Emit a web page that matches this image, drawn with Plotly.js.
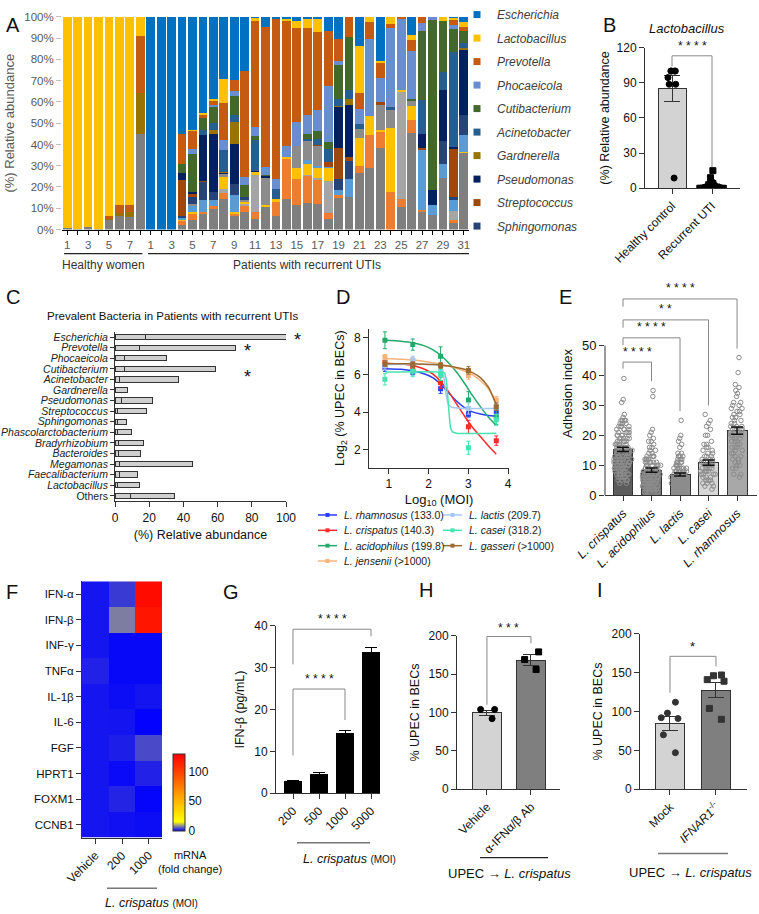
<!DOCTYPE html>
<html>
<head>
<meta charset="utf-8">
<script src="https://cdn.plot.ly/plotly-3.0.1.min.js"></script>
<style>html,body{margin:0;padding:0;background:#fff}#fig{width:759px;height:914px}</style>
</head>
<body>
<div id="fig"></div>
<script>
// ---------- Panel A: relative abundance per sample (%), bottom-up stack ----------
const aBarIds = ['H1','H2','H3','H4','H5','H6','H7','H8',
  'P1','P2','P3','P4','P5','P6','P7','P8','P9','P10','P11','P12','P13','P14','P15','P16',
  'P17','P18','P19','P20','P21','P22','P23','P24','P25','P26','P27','P28','P29','P30','P31'];
const aTickText = ['1','','3','','5','','7','',
  '1','','3','','5','','7','','9','','11','','13','','15','',
  '17','','19','','21','','23','','25','','27','','29','','31'];

const aOthers = [0.5,0.3,1.0,0.4,4.3,6.5,5.9,45, 0,0,0,2,4.7,7.1,9.8,14.4,6.2,8.2,5.1,10.5,6.2,14.4,11.3,12.4,12.1,5.1,14.9,15.5,26.4,28.9,38.2,0,10.6,45.5,8.4,6.7,24.2,3.1,36];
const aLightOrange = [0,0,0,0,0,0,0,0, 0,0,0,1.9,2.8,1.1,1.1,2.7,1.3,2.7,3.1,0,6.7,18.6,12.5,12.8,11.2,2.7,1.1,0,3.3,15.5,7.6,17.5,3.8,6.2,0.9,0,0,1.2,0];
const aLightGray = [0,0,0,0,0,0,0,0, 0,0,0,0,0,0,0,2.0,0,1.2,17.4,0,0,0,0,0.6,0.9,15.2,0,0,0,0,0,0,50.5,0,0,0,0,4.4,0];
const aGold2 = [0,0,0,0,0,0,0,0, 0,0,0,0.6,0.7,0,0,5.7,0.7,0.9,1.6,0.8,1.5,1.2,5.0,5.2,4.7,5.9,0,0,13.5,8.9,0.8,30.3,0.8,6.2,0,0,0,0,0.6];
const aSky = [0,0,0,0,0,0,0,0, 0,0,0,1.0,2.7,5.5,3.1,0,8.1,0,0,0,0,0,0,1.6,1.1,0.6,2.6,8.3,0,0,0,0,0,0.4,28,4.6,6.8,5.0,7.8];
const aGray2 = [0,0,0,0,0,0,0,0, 0,0,0,0,1.2,0,0,1.2,0,1.0,0,12.9,0,0,10.6,9.0,9.3,0,0,0,4.3,0,12.1,8.6,0,2.3,0,0,0,0,0];
const aSphingo = [0,0,0,0,0,0,0,0, 0,0,0,0.9,3.4,8.7,3.5,0,5.1,1.2,0,0,0,0,0,0,0,0,5.2,8.2,0,0,0,0,0,0,0,0,10.6,1.5,9.6];
const aStrep = [0,0,0,0,0,0,0,0, 0,0,0,17.1,1.3,0.6,0,0,0,0,0,0,0,0,0,0,0.4,2.3,14.7,1.9,0,0,1.2,0,0,0,0.9,0,0,22.5,0];
const aPseudo = [0,0,0,0,0,0,0,0, 0,0,0,3.0,0.7,21.4,27.5,0.6,18.6,0,0.5,0.8,0,0,0,0,0,0,19.0,24.8,0,0,0,0,0,0,6.5,7.3,24.1,1.1,30.5];
const aGard = [0,0,0,0,0.8,1.5,2.3,19.1, 0,0,0,0,0,0,1.6,0.6,10.6,0,0,0,0,0,0,0,0,0,0.4,2.8,0,0,0,0,0,0,0,0,0,0,0.9];
const aAcin = [0,0,0,0,0,0,0,0, 0,0,0,0,0,2.6,3.6,10.4,3.1,0,14.4,0,4.7,0,0,0.8,2.9,6.2,3.6,4.2,2.2,0,0,1.1,0,0,16.3,0,8.5,44.7,2.5];
const aCuti = [0,0,0,0,0,0,0,0, 0,0,0,4.2,18.2,5.5,7.4,0,9.3,5.8,1.9,0.7,0,0,0,2.3,3.9,3.1,16.1,24.8,0,0,0,0,0,0.9,32.6,79.8,24.1,10.6,5.7];
const aPhoc = [0,0,0,0,0,0,0,0, 0,0,0,0,2.0,0,0.8,4.4,2.2,3.8,4.0,3.5,4.7,5.2,11.1,9.3,9.6,26.4,1.6,0,7.1,36.1,11.5,37.2,33.3,22.4,3.6,1.6,0,1.9,0];
const aPrev = [0,0,0,0,1.1,3.3,3.4,26.9, 0,0,0,14.3,8.6,1.5,2.2,17.4,5.1,49.7,50.3,66.2,75.2,58.8,44.3,40.9,36.6,25.8,10.6,9.5,7.3,8.4,6.7,2.0,1.0,5.1,2.8,0,0,2.6,1.6];
const aLacto = [99.5,99.7,99.0,99.6,93.8,88.7,88.4,9.0, 0,0,0,0,0.7,1.0,0.7,11.3,0,0,1.0,0,0,0.8,3.4,3.9,6.1,0,0,0,22.2,2.2,1.1,3.3,0,2.3,0,0,1.7,0.8,2.3];
const aEsch = [0,0,0,0,0,0,0,0, 100,100,100,55,53,45,38.7,29.3,29.7,25.5,0.7,4.6,1.0,1.0,1.8,1.2,1.2,6.7,10.2,0,13.7,0,20.8,0,0,9.1,0,0,0,0.6,2.5];

// ---------- Panel B ----------
const bGroups = ['Healthy control', 'Recurrent UTI'];
const bMeans = [84.8, 1.9];
const bSem = [11.2, 0.7];
const bHealthyPts = [100, 100, 100, 100, 94.4, 88.7, 88.7, 8.7];
const bRecurrentPts = [15, 9, 5, 4.5, 4, 3.5, 3, 3, 2.5, 2, 2, 1.5, 1.5, 1, 1, 1, 0.8, 0.5, 0.5, 0.5, 0.3, 0.3, 0.2, 0.2, 0.1, 0.1, 0, 0, 0, 0, 0];

// ---------- Panel C ----------
const cGenera = ['Escherichia','Prevotella','Phocaeicola','Cutibacterium','Acinetobacter','Gardnerella',
  'Pseudomonas','Streptococcus','Sphingomonas','Phascolarctobacterium','Bradyrhizobium','Bacteroides',
  'Megamonas','Faecalibacterium','Lactobacillus','Others'];
const cMedian = [18.1, 14.6, 5.8, 5.8, 2.9, 0, 3.9, 1.4, 1.4, 1.7, 1.9, 1.9, 2.5, 2.9, 1.4, 9.1];
const cMax = [100, 70.3, 29.9, 58.8, 37.3, 7.2, 22.1, 18.4, 6.8, 9.5, 16.9, 14.9, 45.5, 13.4, 14.1, 34.9];

// ---------- Panel D: log2 (% UPEC in BECs) vs log10 MOI ----------
const dLogMoi = [0.9, 1.6, 2.3, 3.0, 3.7];
const dRham = [6.38, 6.15, 5.26, 3.89, 4.03], dRhamErr = [0.2, 0.15, 0.25, 0.15, 0.2];
const dCris = [6.68, 6.41, 5.58, 3.22, 2.48], dCrisErr = [0.3, 0.2, 0.3, 0.35, 0.25];
const dAcid = [7.85, 7.62, 7.0, 4.65, 3.75], dAcidErr = [0.45, 0.3, 0.5, 0.45, 0.4];
const dJens = [6.94, 6.76, 6.5, 5.97, 4.65], dJensErr = [0.15, 0.15, 0.15, 0.2, 0.2];
const dLact = [6.5, 6.8, 6.2, 4.2, 4.3], dLactErr = [0.2, 0.2, 0.2, 0.3, 0.2];
const dCase = [5.76, 6.2, 6.0, 2.1, 3.6], dCaseErr = [0.3, 0.3, 0.3, 0.35, 0.3];
const dGass = [6.6, 6.55, 6.5, 6.24, 4.3], dGassErr = [0.15, 0.15, 0.15, 0.2, 0.2];
// fitted curves
const dFitX = [0.9, 1.3, 1.6, 1.9, 2.1, 2.3, 2.5, 2.7, 2.9, 3.1, 3.3, 3.5, 3.7];
const dRhamFit = [6.33, 6.3, 6.22, 6.05, 5.85, 5.5, 5.05, 4.6, 4.25, 4.02, 3.9, 3.83, 3.8];
const dCrisFit = [6.62, 6.58, 6.5, 6.3, 6.05, 5.65, 5.1, 4.45, 3.8, 3.2, 2.7, 2.2, 1.75];
const dAcidFit = [7.85, 7.8, 7.72, 7.55, 7.35, 7.05, 6.65, 6.15, 5.55, 4.9, 4.3, 3.75, 3.3];
const dJensFit = [6.88, 6.84, 6.8, 6.72, 6.65, 6.57, 6.47, 6.35, 6.2, 6.0, 5.7, 5.25, 4.6];
const dGassFit = [6.6, 6.6, 6.59, 6.57, 6.55, 6.52, 6.47, 6.4, 6.3, 6.12, 5.85, 5.35, 4.4];
const dLactFitX = [0.9, 2.2, 2.3, 2.35, 2.4, 2.45, 2.5, 2.6, 3.0, 3.7];
const dLactFit = [6.55, 6.55, 6.5, 6.3, 5.6, 4.8, 4.4, 4.25, 4.2, 4.2];
const dCaseFitX = [0.9, 2.3, 2.4, 2.45, 2.5, 2.55, 2.6, 2.7, 3.7];
const dCaseFit = [6.15, 6.15, 6.1, 5.6, 4.3, 3.2, 2.95, 2.88, 2.88];

// ---------- Panel E: adhesion index ----------
const eStrains = ['L. crispatus', 'L. acidophilus', 'L. lactis', 'L. casei', 'L. rhamnosus'];
const eMeans = [15.3, 8.4, 6.9, 10.9, 21.6];
const eSem = [0.7, 0.7, 0.5, 0.9, 1.2];
const eCrisLv = [4,5,6,7,8,9,10,11,12,13,14,15,16,17,18,19,20,21,22,23,24,25,26,27,31,32,39];
const eCrisCt = [2,4,5,6,6,7,8,8,8,7,7,7,6,6,5,5,5,4,4,4,4,4,1,1,1,1,1];
const eAcidLv = [1,2,3,4,5,6,7,8,9,10,11,12,13,14,15,16,17,18,19,20,21,22,33,35];
const eAcidCt = [5,7,8,9,9,9,8,7,7,6,6,5,4,2,2,2,1,2,1,1,1,1,1,1];
const eLactLv = [1,2,3,4,5,6,7,8,9,10,11,12,13,14,16,17,18,19,20,25];
const eLactCt = [6,8,10,11,12,11,9,7,6,5,4,3,4,2,1,1,1,1,1,1];
const eCaseLv = [2,3,4,5,6,7,8,9,10,11,12,13,14,15,16,17,18,20,22,23,24,25,27];
const eCaseCt = [1,2,3,3,3,4,4,4,4,3,3,3,2,2,2,2,1,2,1,1,1,1,1];
const eRhamLv = [6,7,9,10,11,12,13,14,15,16,17,18,19,20,21,22,23,24,25,26,27,28,29,30,31,33,34,35,36,37,41,46];
const eRhamCt = [1,2,2,2,2,2,2,2,2,3,2,3,3,3,3,5,3,2,2,2,2,2,2,2,2,1,1,1,1,1,1,1];

// ---------- Panel F: mRNA fold change ----------
const fGenes = ['IFN-α','IFN-β','INF-γ','TNFα','IL-1β','IL-6','FGF','HPRT1','FOXM1','CCNB1'];
const fConditions = ['Vehicle', '200', '1000'];
const fFold = [
  [1.3, 3.5, 125], [1.3, 7.6, 120], [1.3, 0.5, 0.5], [2.0, 0.5, 0.5], [1.3, 0.8, 1.2],
  [1.3, 1.2, 0.1], [1.3, 1.8, 4.5], [1.3, 0.6, 2.0], [1.3, 2.2, 0.3], [1.3, 1.0, 0.8]];

// ---------- Panel G: IFN-β (pg/mL) ----------
const gMoi = ['200', '500', '1000', '5000'];
const gIfnb = [2.7, 4.5, 14.3, 33.7];
const gErr = [0.4, 0.4, 0.8, 1.2];

// ---------- Panel H ----------
const hGroups = ['Vehicle', 'Ab'];
const hLabels = ['Vehicle', 'α-IFNα/β Ab'];
const hMeans = [99.5, 168];
const hSem = [3.5, 7];
const hVehiclePts = [104, 104, 92];
const hAbPts = [179, 169, 156];

// ---------- Panel I ----------
const iGroups = ['Mock', 'IFNAR1'];
const iLabels = ['Mock', '<i>IFNAR1</i><sup>-/-</sup>'];
const iMeans = [84.5, 127.5];
const iSem = [9.5, 10];
const iMockPts = [112, 98, 92, 91, 70, 47];
const iKoPts = [147, 146, 141, 139, 104, 90];

// ================= drawing =================
const W = 759, H = 914;
const FONT = 'Arial, "Liberation Sans", sans-serif';
const px = (a, b) => [a / W, b / W];
const py = (top, bottom) => [1 - bottom / H, 1 - top / H];
const fx = v => v / W;
const fy = v => 1 - v / H;

function expand(levels, counts, label) {
  const xs = [], ys = [];
  levels.forEach((v, i) => { for (let k = 0; k < counts[i]; k++) { xs.push(label); ys.push(v); } });
  return {xs, ys};
}

function dots(x, y, xa, ya, symbol, size, color, width) {
  return {type: 'box', x: x, y: y, xaxis: xa, yaxis: ya, boxpoints: 'all', jitter: 0.9, pointpos: 0,
    width: width, fillcolor: 'rgba(0,0,0,0)', line: {width: 0, color: 'rgba(0,0,0,0)'},
    marker: {symbol: symbol, size: size, color: color, line: {width: 1, color: color}},
    hoverinfo: 'skip', showlegend: false};
}

const traces = [];

// A
const aStack = [
  [aOthers, '#7f7f7f'], [aLightOrange, '#ed7d31'], [aLightGray, '#a5a5a5'], [aGold2, '#ffc000'],
  [aSky, '#5b9bd5'], [aGray2, '#8c8c8c'], [aSphingo, '#264478'], [aStrep, '#9e480e'],
  [aPseudo, '#002060'], [aGard, '#997300'], [aAcin, '#255e91'], [aCuti, '#43682b'],
  [aPhoc, '#698ed0'], [aPrev, '#c55a11'], [aLacto, '#ffc000'], [aEsch, '#0070c0']];
aStack.forEach(s => traces.push({type: 'bar', x: aBarIds, y: s[0], marker: {color: s[1]}, width: 0.84,
  xaxis: 'x', yaxis: 'y', showlegend: false, hoverinfo: 'skip'}));
const aLegend = [['Escherichia', '#0070c0'], ['Lactobacillus', '#ffc000'], ['Prevotella', '#c55a11'],
  ['Phocaeicola', '#698ed0'], ['Cutibacterium', '#43682b'], ['Acinetobacter', '#255e91'],
  ['Gardnerella', '#997300'], ['Pseudomonas', '#002060'], ['Streptococcus', '#9e480e'], ['Sphingomonas', '#264478']];
aLegend.forEach((g, i) => traces.push({type: 'scatter', mode: 'markers', x: [null], y: [null], xaxis: 'x', yaxis: 'y',
  name: '<i>' + g[0] + '</i>', legendgroup: 'g' + i, marker: {symbol: 'square', size: 7, color: g[1]}}));

// B
traces.push({type: 'bar', x: bGroups, y: bMeans, xaxis: 'x2', yaxis: 'y2', width: 0.7,
  marker: {color: '#d3d3d3', line: {color: '#333', width: 1}}, showlegend: false, hoverinfo: 'skip',
  error_y: {type: 'data', array: bSem, color: '#333', thickness: 1, width: 8}});
traces.push(dots(bHealthyPts.map(() => bGroups[0]), bHealthyPts, 'x2', 'y2', 'circle', 6, '#000', 0.7));
traces.push(dots(bRecurrentPts.map(() => bGroups[1]), bRecurrentPts, 'x2', 'y2', 'square', 6, '#000', 0.8));

// C
traces.push({type: 'bar', orientation: 'h', y: cGenera, x: cMedian, xaxis: 'x3', yaxis: 'y3', width: 0.5,
  marker: {color: '#d0d0d0', line: {color: '#333', width: 1}}, showlegend: false, hoverinfo: 'skip'});
traces.push({type: 'bar', orientation: 'h', y: cGenera, x: cMax.map((m, i) => m - cMedian[i]), xaxis: 'x3', yaxis: 'y3', width: 0.5,
  marker: {color: '#d0d0d0', line: {color: '#333', width: 1}}, showlegend: false, hoverinfo: 'skip'});

// D
const dSeries = [
  [dRham, dRhamErr, dFitX, dRhamFit, '#2a3cff'],
  [dCris, dCrisErr, dFitX, dCrisFit, '#ff2a2a'],
  [dAcid, dAcidErr, dFitX, dAcidFit, '#25a86b'],
  [dJens, dJensErr, dFitX, dJensFit, '#f6b47a'],
  [dLact, dLactErr, dLactFitX, dLactFit, '#a6c8f2'],
  [dCase, dCaseErr, dCaseFitX, dCaseFit, '#45e3b0'],
  [dGass, dGassErr, dFitX, dGassFit, '#9c6a30']];
dSeries.forEach(s => {
  traces.push({type: 'scatter', mode: 'lines', x: s[2], y: s[3], xaxis: 'x4', yaxis: 'y4',
    line: {color: s[4], width: 1.5, shape: 'spline', smoothing: 0.6}, showlegend: false, hoverinfo: 'skip'});
  traces.push({type: 'scatter', mode: 'markers', x: dLogMoi, y: s[0], xaxis: 'x4', yaxis: 'y4',
    marker: {symbol: 'square', size: 5, color: s[4]}, showlegend: false, hoverinfo: 'skip',
    error_y: {type: 'data', array: s[1], color: s[4], thickness: 1, width: 2}});
});

// E
traces.push({type: 'bar', x: eStrains, y: eMeans, xaxis: 'x5', yaxis: 'y5', width: 0.7,
  marker: {color: ['#5c5c5c', '#747474', '#8e8e8e', '#d6d6d6', '#a8a8a8'], line: {color: '#333', width: 1}},
  showlegend: false, hoverinfo: 'skip'});
const ePts = [[eCrisLv, eCrisCt], [eAcidLv, eAcidCt], [eLactLv, eLactCt], [eCaseLv, eCaseCt], [eRhamLv, eRhamCt]];
ePts.forEach((p, i) => {
  const d = expand(p[0], p[1], eStrains[i]);
  traces.push(dots(d.xs, d.ys, 'x5', 'y5', 'circle-open', 4.5, '#8c8c8c', 0.72));
});
traces.push({type: 'scatter', mode: 'markers', x: eStrains, y: eMeans, xaxis: 'x5', yaxis: 'y5',
  marker: {size: 1, opacity: 0}, showlegend: false, hoverinfo: 'skip',
  error_y: {type: 'data', array: eSem, color: '#111', thickness: 1.5, width: 6}});

// F
traces.push({type: 'heatmap', x: fConditions, y: fGenes, z: fFold, xaxis: 'x6', yaxis: 'y6', zmin: 0, zmax: 130,
  colorscale: [[0, '#0000ff'], [0.06, '#8080a0'], [0.12, '#ffff00'], [0.45, '#ffa500'], [0.75, '#ff4500'], [1, '#ff0000']],
  hoverinfo: 'skip',
  colorbar: {x: fx(173), xanchor: 'left', y: fy(791), yanchor: 'middle', len: 77, lenmode: 'pixels', thickness: 12,
    xpad: 0, ypad: 0, outlinewidth: 1, outlinecolor: '#333', tickvals: [0, 50, 100], ticks: '',
    tickfont: {size: 12, color: '#111'}}});

// G
traces.push({type: 'bar', x: gMoi, y: gIfnb, xaxis: 'x7', yaxis: 'y7', width: 0.65,
  marker: {color: '#000', line: {color: '#000', width: 1}}, showlegend: false, hoverinfo: 'skip',
  error_y: {type: 'data', array: gErr, color: '#000', thickness: 1, width: 6}});

// H
traces.push({type: 'bar', x: hGroups, y: hMeans, xaxis: 'x8', yaxis: 'y8', width: 0.66,
  marker: {color: ['#d3d3d3', '#7f7f7f'], line: {color: '#333', width: 1}}, showlegend: false, hoverinfo: 'skip',
  error_y: {type: 'data', array: hSem, color: '#333', thickness: 1, width: 8}});
traces.push(dots(hVehiclePts.map(() => hGroups[0]), hVehiclePts, 'x8', 'y8', 'circle', 6, '#000', 0.5));
traces.push(dots(hAbPts.map(() => hGroups[1]), hAbPts, 'x8', 'y8', 'square', 6, '#000', 0.5));

// I
traces.push({type: 'bar', x: iGroups, y: iMeans, xaxis: 'x9', yaxis: 'y9', width: 0.63,
  marker: {color: ['#d3d3d3', '#7f7f7f'], line: {color: '#333', width: 1}}, showlegend: false, hoverinfo: 'skip',
  error_y: {type: 'data', array: iSem, color: '#333', thickness: 1, width: 8}});
traces.push(dots(iMockPts.map(() => iGroups[0]), iMockPts, 'x9', 'y9', 'circle', 6, '#333', 0.5));
traces.push(dots(iKoPts.map(() => iGroups[1]), iKoPts, 'x9', 'y9', 'square', 6, '#333', 0.5));

// ---------- axes ----------
function ax(extra) {
  return Object.assign({showgrid: false, zeroline: false, showline: true, linecolor: '#333', linewidth: 1,
    ticks: 'outside', ticklen: 5, tickcolor: '#333', tickfont: {size: 12, color: '#111'}, fixedrange: true}, extra);
}
const layout = {
  width: W, height: H, margin: {l: 0, r: 0, t: 0, b: 0}, paper_bgcolor: '#fff', plot_bgcolor: 'rgba(0,0,0,0)',
  font: {family: FONT, color: '#111', size: 12}, barmode: 'stack', boxmode: 'overlay', hovermode: false,
  legend: {x: fx(457), y: fy(-9), xanchor: 'left', yanchor: 'top', tracegroupgap: 4.5, bgcolor: 'rgba(0,0,0,0)',
    font: {size: 12, color: '#404040'}},
  xaxis: ax({domain: px(62, 469), anchor: 'y', type: 'category', range: [-0.5, 38.5], tickvals: aBarIds, ticktext: aTickText,
    tickangle: 0, ticklen: 4, linecolor: '#000', linewidth: 1.5, tickcolor: '#000', tickfont: {size: 11.5, color: '#595959'}}),
  yaxis: ax({domain: py(8, 222.7), anchor: 'x', range: [0, 100], dtick: 10, ticksuffix: '%', showline: false,
    tickcolor: '#bfbfbf', tickfont: {size: 11.5, color: '#595959'},
    title: {text: '(%) Relative abundance', font: {size: 13, color: '#595959'}, standoff: 6}}),
  xaxis2: ax({domain: px(645, 740), anchor: 'y2', type: 'category', range: [-0.675, 1.7], tickangle: -45}),
  yaxis2: ax({domain: py(39, 181), anchor: 'x2', range: [0, 120], dtick: 30,
    title: {text: '(%) Relative abundance', font: {size: 12.5}, standoff: 4}}),
  xaxis3: ax({domain: px(115, 286), anchor: 'y3', range: [0, 100], dtick: 20,
    title: {text: '(%) Relative abundance', font: {size: 12.5}, standoff: 6}}),
  yaxis3: ax({domain: py(326, 497), anchor: 'x3', type: 'category', range: [15.5, -0.5], tickvals: cGenera,
    ticktext: cGenera.map(g => g === 'Others' ? g : '<i>' + g + '</i>'), ticklen: 4, tickfont: {size: 10.5, color: '#222'}}),
  xaxis4: ax({domain: px(369, 509), anchor: 'y4', range: [0.5, 4.02], tickvals: [1, 2, 3, 4],
    title: {text: 'Log<sub>10</sub> (MOI)', font: {size: 13}, standoff: 4}}),
  yaxis4: ax({domain: py(322.7, 463.3), anchor: 'x4', range: [1.03, 8.48], tickvals: [2, 4, 6, 8],
    title: {text: 'Log<sub>2</sub> (% UPEC in BECs)', font: {size: 12.5}, standoff: 6}}),
  xaxis5: ax({domain: px(605, 757), anchor: 'y5', type: 'category', range: [-0.632, 4.7], tickangle: -45,
    tickvals: eStrains, ticktext: eStrains.map(s => '<i>' + s + '</i>'), tickfont: {size: 12.5, color: '#111'}}),
  yaxis5: ax({domain: py(285.6, 491), anchor: 'x5', range: [0, 68], tickvals: [0, 10, 20, 30, 40, 50], showline: false,
    tickfont: {size: 13, color: '#111'}, title: {text: 'Adhesion index', font: {size: 13}, standoff: 6}}),
  xaxis6: ax({domain: px(82, 162), anchor: 'y6', type: 'category', range: [-0.5, 2.5], tickangle: -45}),
  yaxis6: ax({domain: py(578, 837), anchor: 'x6', type: 'category', range: [9.5, -0.5], tickfont: {size: 11.5, color: '#111'}}),
  xaxis7: ax({domain: px(276, 380), anchor: 'y7', type: 'category', range: [-0.654, 3.346], tickangle: -45}),
  yaxis7: ax({domain: py(623, 792), anchor: 'x7', range: [0, 40], dtick: 10,
    title: {text: 'IFN-β (pg/mL)', font: {size: 12.5}, standoff: 6}}),
  xaxis8: ax({domain: px(457, 560), anchor: 'y8', type: 'category', range: [-0.68, 1.66], tickangle: -45,
    tickvals: hGroups, ticktext: hLabels}),
  yaxis8: ax({domain: py(633, 788), anchor: 'x8', range: [0, 200], dtick: 50,
    title: {text: '% UPEC in BECs', font: {size: 12.5}, standoff: 6}}),
  xaxis9: ax({domain: px(640, 747), anchor: 'y9', type: 'category', range: [-0.652, 1.674], tickangle: -45,
    tickvals: iGroups, ticktext: iLabels}),
  yaxis9: ax({domain: py(631, 788), anchor: 'x9', range: [0, 200], dtick: 50,
    title: {text: '% UPEC in BECs', font: {size: 12.5}, standoff: 6}})
};

// ---------- annotations & shapes ----------
const ann = [];
const shp = [];
function txt(x, y, text, size, opt) {
  ann.push(Object.assign({xref: 'paper', yref: 'paper', x: fx(x), y: fy(y), text: text, showarrow: false,
    xanchor: 'center', yanchor: 'middle', font: {size: size, color: '#111'}}, opt || {}));
}
function pline(x0, y0, x1, y1, color, w) {
  shp.push({type: 'line', xref: 'paper', yref: 'paper', x0: fx(x0), y0: fy(y0), x1: fx(x1), y1: fy(y1),
    line: {color: color, width: w}});
}
function bracket(xa, ya, xl, xr, top, downL, downR, color) {
  shp.push({type: 'path', xref: xa, yref: ya, line: {color: color || '#888', width: 1},
    path: 'M' + xl + ',' + downL + ' L' + xl + ',' + top + ' L' + xr + ',' + top + ' L' + xr + ',' + downR});
}
function stars(xa, ya, x, y, text, size) {
  ann.push({xref: xa, yref: ya, x: x, y: y, text: text, showarrow: false, xanchor: 'center', yanchor: 'bottom',
    font: {size: size || 13, color: '#111'}});
}

// panel letters
[['A', 4, 3], ['B', 601, 3], ['C', 4, 278], ['D', 334, 278], ['E', 557, 278],
 ['F', 4, 576], ['G', 221, 576], ['H', 417, 574], ['I', 595, 574]].forEach(l =>
  txt(l[1], l[2], l[0], 20, {xanchor: 'left', yanchor: 'top'}));

// A group labels
shp.push({type: 'line', xref: 'x', yref: 'paper', x0: -0.3, x1: 7.2, y0: fy(247), y1: fy(247), line: {color: '#222', width: 1.2}});
shp.push({type: 'line', xref: 'x', yref: 'paper', x0: 7.75, x1: 38.6, y0: fy(247), y1: fy(247), line: {color: '#222', width: 1.2}});
txt(103.5, 259, 'Healthy women', 12, {font: {size: 12, color: '#333'}});
txt(307, 259, 'Patients with recurrent UTIs', 12, {font: {size: 12, color: '#333'}});

// B
txt(687, 20, '<i>Lactobacillus</i>', 13);
bracket('x2', 'y2', 0, 1, 113, 104, 18);
stars('x2', 'y2', 0.5, 114, '* * * *', 12);

// C
txt(172, 310, 'Prevalent Bacteria in Patients with recurrent UTIs', 11.5);
txt(297, 334, '*', 18);
txt(247, 345, '*', 18);
txt(247, 372, '*', 18);

// D legend (drawn by hand: two columns)
const dLegLeft = [['<i>L. rhamnosus</i> (133.0)', '#2a3cff'], ['<i>L. crispatus</i> (140.3)', '#ff2a2a'],
  ['<i>L. acidophilus</i> (199.8)', '#25a86b'], ['<i>L. jensenii</i> (&gt;1000)', '#f6b47a']];
const dLegRight = [['<i>L. lactis</i> (209.7)', '#a6c8f2'], ['<i>L. casei</i> (318.2)', '#45e3b0'],
  ['<i>L. gasseri</i> (&gt;1000)', '#9c6a30']];
function legCol(items, x0) {
  items.forEach((it, i) => {
    const y = 511 + i * 15.5;
    pline(x0, y, x0 + 19, y, it[1], 1.5);
    shp.push({type: 'rect', xref: 'paper', yref: 'paper', x0: fx(x0 + 7.5), x1: fx(x0 + 11.5), y0: fy(y + 2), y1: fy(y - 2),
      fillcolor: it[1], line: {width: 0}});
    txt(x0 + 24, y, it[0], 10.5, {xanchor: 'left', font: {size: 10.5, color: '#222'}});
  });
}
legCol(dLegLeft, 318);
legCol(dLegRight, 443);

// E
shp.push({type: 'line', xref: 'x5 domain', yref: 'y5', x0: 0, x1: 0, y0: 0, y1: 50, line: {color: '#333', width: 1}});
bracket('x5', 'y5', 0, 1, 44.5, 42.3, 38.1);
bracket('x5', 'y5', 0, 2, 52.6, 50.2, 28.1);
bracket('x5', 'y5', 0, 3, 58.6, 56, 30);
bracket('x5', 'y5', 0, 4, 65.6, 63, 49);
stars('x5', 'y5', 0.5, 45, '* * * *', 12);
stars('x5', 'y5', 1, 53.1, '* * * *', 12);
stars('x5', 'y5', 1.5, 59.1, '* *', 12);
stars('x5', 'y5', 2, 66.1, '* * * *', 12);

// F
txt(190, 861, 'mRNA<br>(fold change)', 11);
pline(107, 888, 157, 888, '#777', 1.5);
txt(151, 903, '<i>L. crispatus</i> <span style="font-size:10px">(MOI)</span>', 12.5);

// G
bracket('x7', 'y7', 0, 3, 39.2, 30.8, 37.5);
bracket('x7', 'y7', 0, 2, 24.9, 9.0, 17.5);
stars('x7', 'y7', 1.5, 39.5, '* * * *', 12);
stars('x7', 'y7', 1, 25.2, '* * * *', 12);
pline(297, 842, 370, 842, '#777', 1.5);
txt(349, 858, '<i>L. crispatus</i> <span style="font-size:10px">(MOI)</span>', 12.5);

// H
bracket('x8', 'y8', 0, 1, 199, 110, 190);
stars('x8', 'y8', 0.5, 199, '* * *', 12);
pline(480, 857, 548, 857, '#222', 1.2);
txt(509, 873, 'UPEC → <i>L. crispatus</i>', 13);

// I
bracket('x9', 'y9', 0, 1, 171, 124, 158);
stars('x9', 'y9', 0.5, 172, '*', 13);
pline(658, 853, 728, 853, '#777', 1.5);
txt(690, 872, 'UPEC → <i>L. crispatus</i>', 13);

layout.annotations = ann;
layout.shapes = shp;

Plotly.newPlot('fig', traces, layout, {staticPlot: true, displayModeBar: false});
</script>
</body>
</html>
